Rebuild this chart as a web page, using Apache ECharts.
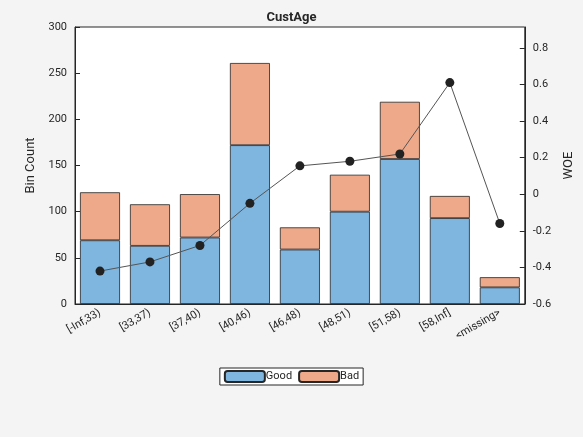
<!DOCTYPE html>
<html>
<head>
<meta charset="utf-8">
<script src="https://cdn.jsdelivr.net/npm/echarts@6/dist/echarts.min.js"></script>
<style>html,body{margin:0;padding:0;background:#f4f4f4;}#main{width:583px;height:437px;}</style>
</head>
<body>
<div id="main"></div>
<script>
var bins = ['[-Inf,33)', '[33,37)', '[37,40)', '[40,46)', '[46,48)', '[48,51)', '[51,58)', '[58,Inf]', '<missing>'];
var good = [69, 63, 72, 172, 59, 100, 157, 93, 18];
var bad = [52, 45, 47, 89, 24, 40, 62, 24, 11];
var woe = [-0.42, -0.37, -0.28, -0.05, 0.155, 0.18, 0.22, 0.61, -0.16];

var chart = echarts.init(document.getElementById('main'));
chart.setOption({
    backgroundColor: '#f4f4f4',
    textStyle: {fontFamily: 'Roboto'},
    title: {
        text: 'CustAge', left: 'center', top: 6,
        textStyle: {fontSize: 13, fontWeight: 'bold', color: '#262626'}
    },
    legend: {
        data: ['Good', 'Bad'], left: 'center', top: 368,
        itemWidth: 40, itemHeight: 11, itemGap: 6,
        borderColor: '#262626', borderWidth: 1, padding: [2, 4],
        backgroundColor: '#fff',
        textStyle: {fontSize: 11, color: '#262626', padding: [0, 0, 0, -4]}
    },
    grid: {
        left: 75, right: 56, top: 27, bottom: 133,
        show: true, backgroundColor: '#fff', borderColor: '#262626', borderWidth: 1
    },
    xAxis: {
        type: 'category', data: bins,
        axisLine: {lineStyle: {color: '#262626'}},
        axisTick: {show: false},
        axisLabel: {rotate: 30, color: '#262626', fontSize: 11, interval: 0}
    },
    yAxis: [
        {
            type: 'value', min: 0, max: 300, interval: 50,
            name: 'Bin Count', nameLocation: 'middle', nameGap: 32,
            nameTextStyle: {fontSize: 13, color: '#262626'},
            axisLine: {show: true, lineStyle: {color: '#262626'}},
            axisTick: {show: true, inside: true},
            axisLabel: {color: '#262626', fontSize: 11},
            splitLine: {show: false}
        },
        {
            type: 'value', min: -0.6, max: 0.914, interval: 0.2,
            name: 'WOE', nameLocation: 'middle', nameGap: 36,
            nameTextStyle: {fontSize: 13, color: '#262626'},
            axisLine: {show: true, lineStyle: {color: '#262626'}},
            axisTick: {show: true, inside: true},
            axisLabel: {color: '#262626', fontSize: 11, showMaxLabel: false,
                formatter: function (v) { return Math.abs(v) < 1e-9 ? '0' : v.toFixed(1); }},
            splitLine: {show: false}
        }
    ],
    series: [
        {
            name: 'Good', type: 'bar', stack: 'c', data: good, barWidth: '80%',
            itemStyle: {color: '#7eb6e0', borderColor: '#262626', borderWidth: 0.8}
        },
        {
            name: 'Bad', type: 'bar', stack: 'c', data: bad,
            itemStyle: {color: '#eda98a', borderColor: '#262626', borderWidth: 0.8}
        },
        {
            name: 'WOE', type: 'line', yAxisIndex: 1, data: woe,
            symbol: 'circle', symbolSize: 9,
            lineStyle: {color: '#555', width: 1},
            itemStyle: {color: '#222'}
        }
    ]
});
</script>
</body>
</html>
